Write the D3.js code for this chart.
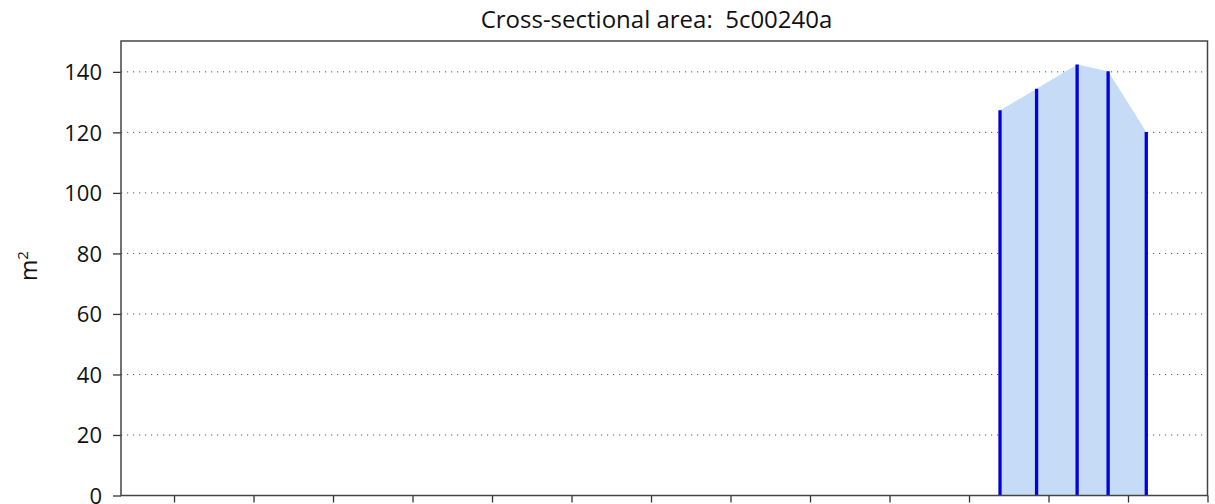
<!DOCTYPE html>
<html>
<head>
<meta charset="utf-8">
<script src="https://cdn.jsdelivr.net/npm/d3@7"></script>
<style>
  body { margin: 0; background: #fff; }
  svg text { font-family: "Open Sans", "Noto Sans", sans-serif; fill: #111; }
</style>
</head>
<body>
<div id="chart"></div>
<script>
// data (x in tick units, y in m2)
var titleText = "Cross-sectional area:\u00a0 5c00240a";
var stationX = [11.39, 11.85, 12.36, 12.75, 13.23];
var areaValues = [127.3, 134.4, 142.4, 140.2, 120.1];
var yTicks = [0, 20, 40, 60, 80, 100, 120, 140];
var xTicks = [1, 2, 3, 4, 5, 6, 7, 8, 9, 10, 11, 12, 13, 14];

var width = 1215, height = 504;
var margin = { top: 41, right: 7.5, bottom: 8.5, left: 121 };
var w = width - margin.left - margin.right,
    h = height - margin.top - margin.bottom;

var svg = d3.select('#chart')
    .append('svg')
    .attr('width', width)
    .attr('height', height);

var g = svg.append('g')
    .attr('transform', 'translate(' + margin.left + ',' + margin.top + ')');

var x = d3.scaleLinear().domain([0.333, 14]).range([0, w]);
var y = d3.scaleLinear().domain([0, 150.2]).range([h, 0]);

var data = stationX.map((d, i) => ({ x: d, v: areaValues[i] }));

// dotted grid
g.selectAll('.grid')
    .data(yTicks.filter(d => d > 0))
    .enter().append('line')
    .attr('x1', 0).attr('x2', w)
    .attr('y1', d => y(d)).attr('y2', d => y(d))
    .attr('stroke', '#555')
    .attr('stroke-width', 1)
    .attr('stroke-dasharray', '1.2,4.8');

// filled area under the sections
var area = d3.area()
    .x(d => x(d.x))
    .y0(h)
    .y1(d => y(d.v));

g.append('path')
    .datum(data)
    .attr('d', area)
    .attr('fill', '#c6dcf6');

// vertical bars
g.selectAll('.bar')
    .data(data)
    .enter().append('line')
    .attr('x1', d => x(d.x)).attr('x2', d => x(d.x))
    .attr('y1', h).attr('y2', d => y(d.v))
    .attr('stroke', '#0000e0')
    .attr('stroke-width', 3.3);

// axes
var yAxis = g.append('g')
    .call(d3.axisLeft(y).tickValues(yTicks).tickSize(8).tickPadding(11));
yAxis.select('.domain').remove();
yAxis.selectAll('.tick line').attr('stroke', '#333').attr('stroke-width', 1.3);
yAxis.selectAll('.tick text').attr('font-size', 22).attr('dy', '0.35em').style('fill', '#111');

var xAxis = g.append('g')
    .attr('transform', 'translate(0,' + h + ')')
    .call(d3.axisBottom(x).tickValues(xTicks).tickSize(7).tickFormat(''));
xAxis.select('.domain').remove();
xAxis.selectAll('.tick line').attr('stroke', '#333').attr('stroke-width', 1.3);

// frame
g.append('rect')
    .attr('width', w).attr('height', h)
    .attr('fill', 'none')
    .attr('stroke', '#444')
    .attr('stroke-width', 1.5);

// title
svg.append('text')
    .attr('x', 656.5)
    .attr('y', 28)
    .attr('text-anchor', 'middle')
    .attr('font-size', 24)
    .text(titleText);

// y label
var yl = svg.append('text')
    .attr('transform', 'translate(37,266) rotate(-90)')
    .attr('text-anchor', 'middle')
    .attr('font-size', 23);
yl.append('tspan').text('m');
yl.append('tspan').attr('font-size', 15).attr('dy', -9).text('2');
</script>
</body>
</html>
